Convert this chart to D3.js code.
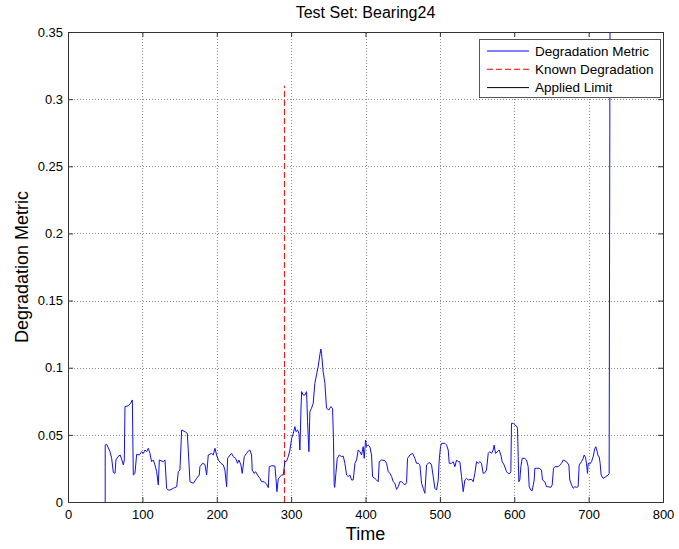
<!DOCTYPE html>
<html>
<head>
<meta charset="utf-8">
<script src="https://cdn.jsdelivr.net/npm/d3@7"></script>
<style>
  html, body { margin: 0; padding: 0; background: #fff; }
  svg { display: block; font-family: "Liberation Sans", Arial, Helvetica, sans-serif; }
</style>
</head>
<body>
<svg id="chart" width="679" height="549"></svg>
<script>
// Degradation metric of the Bearing24 test set over time
const time = [50,50,52,56.5,58.7,60.9,63.2,64.5,67.2,70.2,72.9,74.4,75.7,76.6,81.1,84.2,86.5,87.8,90,92.3,95.9,99,101.3,103.5,105.7,108,110.2,112.4,114.7,116.9,119.2,121.4,122.8,128.1,130.4,132.6,134.9,137.1,141.6,146.1,148.3,150.5,152.8,157.3,160.4,161.7,164,168.5,172.9,176.5,177.4,181,184.1,186.4,188.6,193.1,195.3,197.6,199.8,202.1,205.6,208.8,211,213.3,214.6,217.8,220,222.2,225.4,228,229.8,232.5,234.3,237,240.1,242.4,244.6,246.8,247.7,250.4,252.2,254.8,258,260.3,263.9,267,269.3,270.6,273.8,278.2,279.6,280.9,282.7,285,287.2,289.4,291.7,293.9,296.2,298.4,300.7,302.9,305.1,306.5,308.7,310.5,311.8,313.2,314.1,316.3,318.5,320.8,322.1,323.9,325.2,327.4,329.7,331.9,334.1,336.4,338.6,340,340.9,343.1,345.4,347.6,350.7,353.4,355.7,357,357.9,358.6,360.2,362,364.7,367.8,370.1,372.3,374.6,376.8,379,381.3,383.5,385.8,388,390.2,392.5,394.7,396.9,398.3,400.1,401.4,403.6,405.9,408.1,409.5,412.6,414.9,417.1,418.5,421.6,426.1,428.3,430.6,432.8,435.1,437.3,439.5,441.8,444,446.2,448.5,450.7,453,455.2,456.5,459.7,463.3,466.4,468.6,470.9,473.1,475.4,477.6,479.8,482.1,484.3,486.6,488.8,491,493.3,495.5,497.8,499.1,500.9,502.2,506.7,509,511.2,512.6,515.7,518,520.2,522.4,524.7,526.9,529.1,531.4,533.6,535.8,538.1,542.6,544.8,547,549.3,551.5,553.8,556,558.2,560.5,562.7,565,567.2,569.4,571.7,573,574.8,577.5,579.7,582,583.8,586.4,589.6,591.8,594.1,595.4,596.3,598.6,600.8,603,604.4,605.3,606.2,607.5,608.9,610.7,614.2,616.5,618.7,620.1,622.3,624.1,626.8,627.7,629.9,633.5,636.6,638,641.1,643.4,645.6,649.2,651,652.8,654.6,659.1,661.3,663.6,665.8,670.3,673.4,674.7,677,679.2,681.5,683.7,685.9,687.3,690.4,692.7,694,695.8,697.1,698.5,699.4,701.6,703.9,706.1,708.4,709.7,711.5,712.8,714.2,715.5,716.8,719.5,723.1,726.3,727.6,728,729];
const metric = [0,0.0424,0.043,0.0375,0.0325,0.0221,0.0213,0.0313,0.0338,0.035,0.0305,0.0276,0.0313,0.071,0.0717,0.0735,0.076,0.0201,0.0213,0.0355,0.035,0.0375,0.0362,0.0387,0.0375,0.04,0.0362,0.03,0.0313,0.0276,0.0226,0.0127,0.0313,0.03,0.0313,0.0102,0.0089,0.0089,0.0102,0.0114,0.0226,0.0238,0.0536,0.0524,0.0511,0.0387,0.0151,0.0139,0.0176,0.0201,0.0263,0.0288,0.028,0.0201,0.035,0.0362,0.035,0.04,0.035,0.0313,0.0288,0.0276,0.0238,0.0114,0.0325,0.035,0.0362,0.0338,0.0325,0.0288,0.0313,0.0276,0.0213,0.0338,0.0362,0.038,0.0387,0.035,0.0238,0.0213,0.0226,0.0201,0.0176,0.0151,0.0151,0.0132,0.0107,0.0263,0.027,0.0268,0.0176,0.0077,0.0171,0.0189,0.0201,0.0201,0.03,0.0305,0.0338,0.0387,0.0474,0.0511,0.0561,0.0524,0.0536,0.0511,0.0387,0.0685,0.0822,0.0797,0.0797,0.0822,0.0598,0.0375,0.0673,0.0698,0.0735,0.0884,0.0946,0.1008,0.1095,0.1139,0.1107,0.097,0.0884,0.0698,0.0685,0.071,0.0698,0.0449,0.0127,0.0109,0.0213,0.0325,0.035,0.0338,0.0342,0.0288,0.0201,0.019,0.0201,0.0164,0.0164,0.0288,0.0313,0.0387,0.0375,0.035,0.0412,0.0325,0.0462,0.0412,0.0424,0.0412,0.035,0.0189,0.0176,0.0164,0.0151,0.03,0.0313,0.0308,0.0288,0.0226,0.0213,0.019,0.0151,0.0139,0.0094,0.0114,0.0151,0.0151,0.0139,0.0127,0.0144,0.0325,0.035,0.0362,0.0325,0.0288,0.0288,0.0276,0.0139,0.0102,0.0065,0.0276,0.0288,0.0293,0.0276,0.019,0.0102,0.0089,0.0164,0.0313,0.0412,0.0437,0.0437,0.0424,0.0387,0.0288,0.0288,0.03,0.0263,0.0313,0.03,0.03,0.019,0.0077,0.0164,0.0176,0.0164,0.0169,0.0151,0.0213,0.03,0.0288,0.03,0.0288,0.0213,0.0218,0.0238,0.0362,0.0375,0.0362,0.0387,0.0424,0.0362,0.0375,0.0387,0.035,0.03,0.0276,0.0226,0.0213,0.0213,0.0226,0.0586,0.0586,0.0573,0.0566,0.0549,0.0338,0.0151,0.0164,0.0263,0.0325,0.0325,0.0313,0.0263,0.0114,0.0089,0.0084,0.0164,0.0251,0.0251,0.0251,0.0238,0.0164,0.0151,0.0114,0.0114,0.0109,0.0127,0.0251,0.0263,0.0263,0.0276,0.0288,0.0313,0.03,0.0276,0.0164,0.0127,0.0102,0.0114,0.0109,0.0114,0.0276,0.03,0.0325,0.035,0.0333,0.0288,0.0213,0.0288,0.0283,0.03,0.0338,0.04,0.0412,0.0375,0.0342,0.0338,0.0288,0.0201,0.0176,0.0189,0.0201,0.0213,0.14,0.42];

// Onset of known degradation (vertical marker)
const knownDegradationTime = [291, 291];
const knownDegradationValue = [0, 0.31];

const xTicks = [0, 100, 200, 300, 400, 500, 600, 700, 800];
const xTickLabels = ["0", "100", "200", "300", "400", "500", "600", "700", "800"];
const yTicks = [0, 0.05, 0.1, 0.15, 0.2, 0.25, 0.3, 0.35];
const yTickLabels = ["0", "0.05", "0.1", "0.15", "0.2", "0.25", "0.3", "0.35"];

const legendLabels = ["Degradation Metric", "Known Degradation", "Applied Limit"];
const legendColors = ["#0000ff", "#ff0000", "#000000"];
const legendDash = [null, "6,3", null];

const svg = d3.select("#chart");
const margin = { left: 68, right: 16, top: 32, bottom: 47 };
const W = 679, H = 549;
const x0 = margin.left, x1 = W - margin.right;
const y0 = H - margin.bottom, y1 = margin.top;

const x = d3.scaleLinear().domain([0, 800]).range([x0, x1]);
const y = d3.scaleLinear().domain([0, 0.35]).range([y0, y1]);

svg.append("rect").attr("width", W).attr("height", H).attr("fill", "#fff");

// Dotted grid
const grid = svg.append("g").attr("stroke", "#8c8c8c").attr("stroke-width", 1)
  .attr("stroke-dasharray", "1,2").attr("shape-rendering", "crispEdges");
grid.selectAll("line.gx").data(xTicks.slice(1, -1)).join("line")
  .attr("x1", d => Math.round(x(d)) + 0.5).attr("x2", d => Math.round(x(d)) + 0.5)
  .attr("y1", y0).attr("y2", y1);
grid.selectAll("line.gy").data(yTicks.slice(1, -1)).join("line")
  .attr("y1", d => Math.round(y(d)) + 0.5).attr("y2", d => Math.round(y(d)) + 0.5)
  .attr("x1", x0).attr("x2", x1);

// Plot clip
svg.append("clipPath").attr("id", "plotClip").append("rect")
  .attr("x", x0).attr("y", y1).attr("width", x1 - x0).attr("height", y0 - y1);

const plot = svg.append("g").attr("clip-path", "url(#plotClip)");

const line = d3.line().x(d => x(d[0])).y(d => y(d[1]));

plot.append("path")
  .datum(d3.zip(knownDegradationTime, knownDegradationValue))
  .attr("d", line)
  .attr("fill", "none").attr("stroke", "#ff0000").attr("stroke-width", 1)
  .attr("stroke-dasharray", "6,3");

plot.append("path")
  .datum(d3.zip(time, metric))
  .attr("d", line)
  .attr("fill", "none").attr("stroke", "#1010ee").attr("stroke-width", 1);

// Axes with inward ticks
function styleAxis(g) {
  g.select(".domain").remove();
  g.selectAll(".tick line").attr("stroke", "#333");
  g.selectAll(".tick text").attr("fill", "#000").attr("font-size", 13)
    .attr("font-family", "'Liberation Sans', Arial, sans-serif");
}

svg.append("g").attr("transform", `translate(0,${y0})`)
  .call(d3.axisBottom(x).tickValues(xTicks).tickFormat((d, i) => xTickLabels[i])
    .tickSizeInner(-5).tickSizeOuter(0).tickPadding(8))
  .call(styleAxis);
svg.append("g").attr("transform", `translate(0,${y1})`)
  .call(d3.axisTop(x).tickValues(xTicks).tickFormat("").tickSizeInner(-5).tickSizeOuter(0))
  .call(styleAxis);
svg.append("g").attr("transform", `translate(${x0},0)`)
  .call(d3.axisLeft(y).tickValues(yTicks).tickFormat((d, i) => yTickLabels[i])
    .tickSizeInner(-5).tickSizeOuter(0).tickPadding(5))
  .call(styleAxis);
svg.append("g").attr("transform", `translate(${x1},0)`)
  .call(d3.axisRight(y).tickValues(yTicks).tickFormat("").tickSizeInner(-5).tickSizeOuter(0))
  .call(styleAxis);

// Axes box
svg.append("rect")
  .attr("x", x0 + 0.5).attr("y", y1 + 0.5)
  .attr("width", x1 - x0).attr("height", y0 - y1)
  .attr("fill", "none").attr("stroke", "#333").attr("stroke-width", 1)
  .attr("shape-rendering", "crispEdges");

// Titles
svg.append("text").attr("x", (x0 + x1) / 2).attr("y", 18)
  .attr("text-anchor", "middle").attr("font-size", 16).text("Test Set: Bearing24");
svg.append("text").attr("x", (x0 + x1) / 2).attr("y", 540)
  .attr("text-anchor", "middle").attr("font-size", 18).text("Time");
svg.append("text")
  .attr("transform", `translate(28,${(y0 + y1) / 2}) rotate(-90)`)
  .attr("text-anchor", "middle").attr("font-size", 18).text("Degradation Metric");

// Legend
const lg = svg.append("g").attr("transform", "translate(479,39)");
lg.append("rect").attr("x", 0.5).attr("y", 0.5).attr("width", 181).attr("height", 58)
  .attr("fill", "#fff").attr("stroke", "#555").attr("stroke-width", 1)
  .attr("shape-rendering", "crispEdges");
const rows = lg.selectAll("g.row").data(legendLabels).join("g")
  .attr("transform", (d, i) => `translate(0,${12 + i * 18.3})`);
rows.append("line").attr("x1", 8).attr("x2", 50).attr("y1", 0).attr("y2", 0)
  .attr("stroke", (d, i) => legendColors[i]).attr("stroke-width", 1)
  .attr("stroke-dasharray", (d, i) => legendDash[i]);
rows.append("text").attr("x", 56).attr("y", 4.7).attr("font-size", 13.5)
  .attr("fill", "#000").text(d => d);
</script>
</body>
</html>
